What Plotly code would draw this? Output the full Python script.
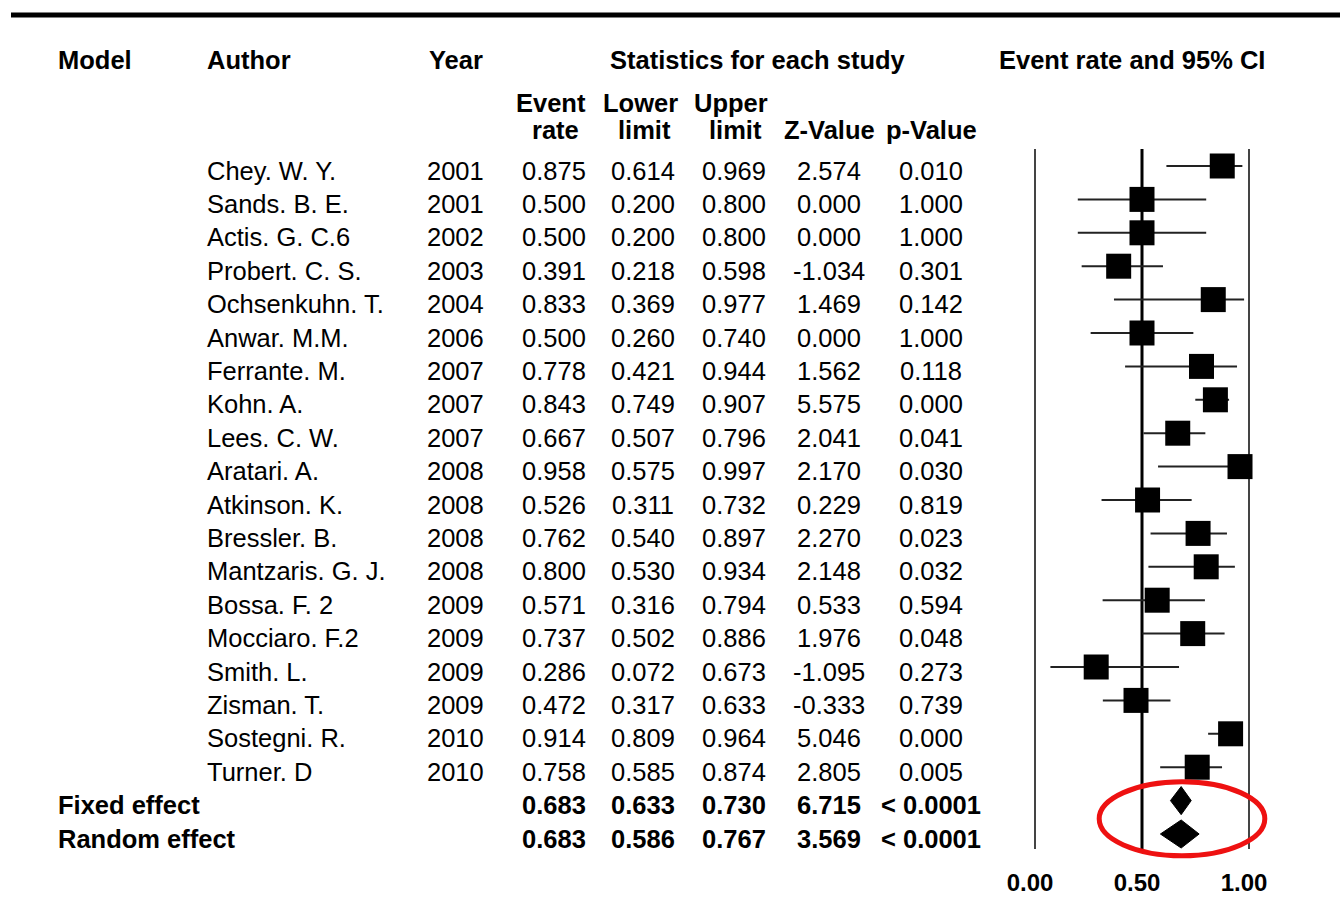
import plotly.graph_objects as go

# ---------------- data ----------------
authors = ["Chey. W. Y.", "Sands. B. E.", "Actis. G. C.6", "Probert. C. S.", "Ochsenkuhn. T.",
           "Anwar. M.M.", "Ferrante. M.", "Kohn. A.", "Lees. C. W.", "Aratari. A.",
           "Atkinson. K.", "Bressler. B.", "Mantzaris. G. J.", "Bossa. F. 2", "Mocciaro. F.2",
           "Smith. L.", "Zisman. T.", "Sostegni. R.", "Turner. D"]
years = [2001, 2001, 2002, 2003, 2004, 2006, 2007, 2007, 2007, 2008,
         2008, 2008, 2008, 2009, 2009, 2009, 2009, 2010, 2010]
event_rate = [0.875, 0.500, 0.500, 0.391, 0.833, 0.500, 0.778, 0.843, 0.667, 0.958,
              0.526, 0.762, 0.800, 0.571, 0.737, 0.286, 0.472, 0.914, 0.758]
lower_limit = [0.614, 0.200, 0.200, 0.218, 0.369, 0.260, 0.421, 0.749, 0.507, 0.575,
               0.311, 0.540, 0.530, 0.316, 0.502, 0.072, 0.317, 0.809, 0.585]
upper_limit = [0.969, 0.800, 0.800, 0.598, 0.977, 0.740, 0.944, 0.907, 0.796, 0.997,
               0.732, 0.897, 0.934, 0.794, 0.886, 0.673, 0.633, 0.964, 0.874]
z_value = [2.574, 0.000, 0.000, -1.034, 1.469, 0.000, 1.562, 5.575, 2.041, 2.170,
           0.229, 2.270, 2.148, 0.533, 1.976, -1.095, -0.333, 5.046, 2.805]
p_value = [0.010, 1.000, 1.000, 0.301, 0.142, 1.000, 0.118, 0.000, 0.041, 0.030,
           0.819, 0.023, 0.032, 0.594, 0.048, 0.273, 0.739, 0.000, 0.005]

summary_models = ["Fixed effect", "Random effect"]
summary_rate = [0.683, 0.683]
summary_lower = [0.633, 0.586]
summary_upper = [0.730, 0.767]
summary_z = [6.715, 3.569]
summary_p = ["< 0.0001", "< 0.0001"]

tick_vals = [0.0, 0.5, 1.0]
tick_text = ["0.00", "0.50", "1.00"]

# ---------------- layout helpers ----------------
W, H = 1340, 921
FONT = "Liberation Sans, Arial, sans-serif"
FS = 25.5
ROW_PX = 33.4          # px between rows
ROW0_PX = 166          # pixel y of first row marks
TEXT_OFF = 4.5 / ROW_PX  # text sits a bit lower than marks

X0_PX, X1_PX = 1035, 1249          # pixel positions of 0 and 1 on the scale
UNIT = X1_PX - X0_PX
XR = [-0.2, 1.3]                    # axis range (wider than 0..1 so nothing clips)
DOM = [(X0_PX + XR[0] * UNIT) / W, (X0_PX + XR[1] * UNIT) / W]


def px(x):
    return x / W


def row_of_px(y):
    return (y - ROW0_PX) / ROW_PX


def val_of_px(x):
    return (x - X0_PX) / UNIT


n = len(authors)
rows = list(range(n))
sum_rows = [n, n + 1]

fig = go.Figure()

# confidence interval lines
ci_x, ci_y = [], []
for r, lo, hi in zip(rows, lower_limit, upper_limit):
    ci_x += [lo, hi, None]
    ci_y += [r, r, None]
fig.add_trace(go.Scatter(x=ci_x, y=ci_y, mode="lines",
                         line=dict(color="#222222", width=2),
                         hoverinfo="skip", showlegend=False, cliponaxis=False))

# study squares
fig.add_trace(go.Scatter(x=event_rate, y=rows, mode="markers",
                         marker=dict(symbol="square", size=25, color="black",
                                     line=dict(width=0)),
                         showlegend=False, cliponaxis=False))

# summary diamonds
HALF = 0.42
for r, est, lo, hi in zip(sum_rows, summary_rate, summary_lower, summary_upper):
    fig.add_trace(go.Scatter(x=[lo, est, hi, est, lo],
                             y=[r, r - HALF, r, r + HALF, r],
                             mode="lines", fill="toself", fillcolor="black",
                             line=dict(color="black", width=1),
                             showlegend=False, hoverinfo="skip", cliponaxis=False))

shapes = []
# top thick rule
shapes.append(dict(type="line", xref="paper", yref="paper",
                   x0=px(11), x1=1.0, y0=1 - 15 / H, y1=1 - 15 / H,
                   line=dict(color="black", width=5)))
# vertical reference lines
y_top = row_of_px(149)
y_bot = row_of_px(849)
for v in tick_vals:
    shapes.append(dict(type="line", xref="x", yref="y", x0=v, x1=v,
                       y0=y_top, y1=y_bot,
                       line=dict(color="black" if v == 0.5 else "#444444",
                                 width=3 if v == 0.5 else 2),
                       layer="below"))
# red ellipse around the summary diamonds
shapes.append(dict(type="circle", xref="x", yref="y",
                   x0=val_of_px(1099.2), x1=val_of_px(1264.8),
                   y0=row_of_px(781.8), y1=row_of_px(855.8),
                   line=dict(color="#ee1111", width=5)))

ann = []


def txt(text, x, y, anchor="center", bold=False, size=FS):
    ann.append(dict(text=text, x=px(x), y=y, xref="paper", yref="y",
                    xanchor=anchor, yanchor="middle", showarrow=False,
                    font=dict(family=FONT, size=size, color="black",
                              weight="bold" if bold else "normal")))


# headers
h1 = row_of_px(60)
h2 = row_of_px(102.5)
h3 = row_of_px(130)
txt("Model", 56, h1, "left", True)
txt("Author", 205, h1, "left", True)
txt("Year", 427, h1, "left", True)
txt("Statistics for each study", 757.5, h1, "center", True)
txt("Event rate and 95% CI", 1132, h1, "center", True)
txt("Event", 551, h2, "center", True)
txt("rate", 555, h3, "center", True)
txt("Lower", 640, h2, "center", True)
txt("limit", 644, h3, "center", True)
txt("Upper", 731, h2, "center", True)
txt("limit", 735, h3, "center", True)
txt("Z-Value", 829.5, h3, "center", True)
txt("p-Value", 931, h3, "center", True)

# study rows
for r in rows:
    y = r + TEXT_OFF
    txt(authors[r], 205, y, "left")
    txt(str(years[r]), 425, y, "left")
    txt(f"{event_rate[r]:.3f}", 554, y)
    txt(f"{lower_limit[r]:.3f}", 643, y)
    txt(f"{upper_limit[r]:.3f}", 734, y)
    txt(f"{z_value[r]:.3f}", 829, y)
    txt(f"{p_value[r]:.3f}", 931, y)

# summary rows
for k, r in enumerate(sum_rows):
    y = r + TEXT_OFF
    txt(summary_models[k], 56, y, "left", True)
    txt(f"{summary_rate[k]:.3f}", 554, y, bold=True)
    txt(f"{summary_lower[k]:.3f}", 643, y, bold=True)
    txt(f"{summary_upper[k]:.3f}", 734, y, bold=True)
    txt(f"{summary_z[k]:.3f}", 829, y, bold=True)
    txt(summary_p[k], 931, y, bold=True)

fig.update_layout(
    width=W, height=H,
    margin=dict(l=0, r=0, t=0, b=0, pad=0, autoexpand=False),
    paper_bgcolor="white", plot_bgcolor="rgba(0,0,0,0)",
    shapes=shapes, annotations=ann,
    showlegend=False,
    xaxis=dict(domain=DOM, range=XR, automargin=False,
               showgrid=False, zeroline=False, showline=False, ticks="",
               tickvals=tick_vals, ticktext=tick_text,
               tickfont=dict(family=FONT, size=24, color="black", weight="bold"),
               anchor="free", position=1 - 866 / H, ticklabelshift=-5,
               fixedrange=True),
    yaxis=dict(domain=[0, 1], range=[row_of_px(H), row_of_px(0)], automargin=False,
               visible=False, fixedrange=True),
)

fig.write_html("out.html",
               config={"displayModeBar": False},
               post_script="document.body.style.margin='0px';document.body.style.padding='0px';")
